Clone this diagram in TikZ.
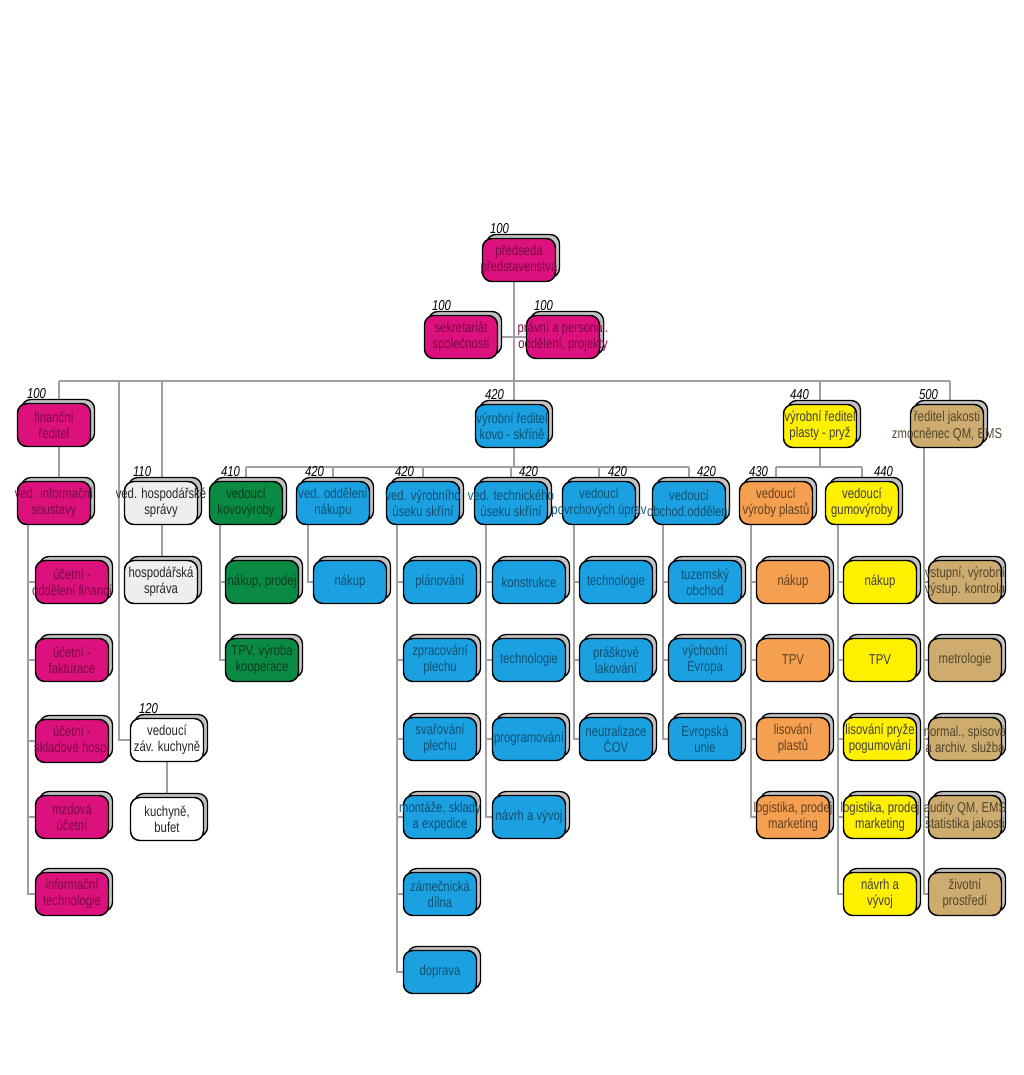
\documentclass[tikz,border=0pt]{standalone}
\usepackage{fontspec}
\setmainfont{Liberation Sans}[FakeStretch=0.79]
\usetikzlibrary{shadows,calc}
\pgfdeclarelayer{bg}
\pgfsetlayers{bg,main}
\definecolor{cMag}{RGB}{221,17,126}
\definecolor{cBlue}{RGB}{27,161,226}
\definecolor{cGreen}{RGB}{10,138,67}
\definecolor{cOrange}{RGB}{245,160,80}
\definecolor{cYellow}{RGB}{255,240,0}
\definecolor{cTan}{RGB}{206,172,112}
\definecolor{cLight}{RGB}{238,238,238}
\definecolor{cLine}{RGB}{160,160,160}
\definecolor{cShadow}{RGB}{195,195,195}
\newcommand{\ovl}[1]{\makebox[0pt]{#1}}
\begin{document}
\begin{tikzpicture}[x=0.75pt,y=-0.75pt,
  box/.style={rectangle, rounded corners=7pt, draw=black, line width=1.1pt,
    minimum width=54.75pt, minimum height=32.25pt, inner sep=0pt, align=center,
    font=\fontsize{10.75}{12.2}\selectfont,
    copy shadow={shadow xshift=3pt, shadow yshift=3pt, fill=cShadow, draw=black, line width=1pt}},
  mag/.style={box, fill=cMag, text=cMag!55!black},
  blu/.style={box, fill=cBlue, text=cBlue!50!black},
  grn/.style={box, fill=cGreen, text=cGreen!45!black},
  org/.style={box, fill=cOrange, text=cOrange!40!black},
  yel/.style={box, fill=cYellow, text=black!75},
  tan/.style={box, fill=cTan, text=cTan!40!black},
  lgt/.style={box, fill=cLight, text=black!85},
  wht/.style={box, fill=white, text=black!85},
  conn/.style={draw=cLine, line width=1.1pt},
  numL/.style={font=\fontsize{10.75}{12}\selectfont\itshape, inner sep=0pt, anchor=south west},
  numR/.style={font=\fontsize{10.75}{12}\selectfont\itshape, inner sep=0pt, anchor=south east},
]
\useasboundingbox (0,0) rectangle (1024,1075);

% ---------- top ----------
\node[mag] (pred) at (519,260) {\ovl{předseda}\\\ovl{představenstva}};
\node[mag] (sekr) at (461,337) {\ovl{sekretariát}\\\ovl{společnosti}};
\node[mag] (prav) at (563,337) {\ovl{právní a personál.}\\\ovl{oddělení, projekty}};

% ---------- level 2 ----------
\node[mag] (fin) at (54,425) {\ovl{finanční}\\\ovl{ředitel}};
\node[blu] (kovo) at (512,426) {\ovl{výrobní ředitel}\\\ovl{kovo - skříně}};
\node[yel] (plasty) at (820,426) {\ovl{výrobní ředitel}\\\ovl{plasty - pryž}};
\node[tan] (jakost) at (947,426) {\ovl{ředitel jakosti}\\\ovl{zmocněnec QM, EMS}};

% ---------- level 3 ----------
\node[mag] (vinf) at (54,503) {\ovl{ved. informační}\\\ovl{soustavy}};
\node[lgt] (vhosp) at (161,503) {\ovl{ved. hospodářské}\\\ovl{správy}};
\node[grn] (vkov) at (246,503) {\ovl{vedoucí}\\\ovl{kovovýroby}};
\node[blu] (vnak) at (333,503) {\ovl{ved. oddělení}\\\ovl{nákupu}};
\node[blu] (vvyr) at (423,503) {\ovl{ved. výrobního}\\\ovl{úseku skříní}};
\node[blu] (vtech) at (511,503) {\ovl{ved. technického}\\\ovl{úseku skříní}};
\node[blu] (vpov) at (599,503) {\ovl{vedoucí}\\\ovl{povrchových úprav}};
\node[blu] (vobch) at (689,503) {\ovl{vedoucí}\\\ovl{obchod.oddělení}};
\node[org] (vpl) at (776,503) {\ovl{vedoucí}\\\ovl{výroby plastů}};
\node[yel] (vgum) at (862,503) {\ovl{vedoucí}\\\ovl{gumovýroby}};

% ---------- children ----------
\node[mag] (f1) at (72,582) {\ovl{účetní -}\\\ovl{oddělení financí}};
\node[mag] (f2) at (72,660) {\ovl{účetní -}\\\ovl{fakturace}};
\node[mag] (f3) at (72,741) {\ovl{účetní -}\\\ovl{skladové hosp.}};
\node[mag] (f4) at (72,817) {\ovl{mzdová}\\\ovl{účetní}};
\node[mag] (f5) at (72,894) {\ovl{informační}\\\ovl{technologie}};

\node[lgt] (hosp) at (161,582) {\ovl{hospodářská}\\\ovl{správa}};
\node[wht] (kuch) at (167,740) {\ovl{vedoucí}\\\ovl{záv. kuchyně}};
\node[wht] (bufet) at (167,819) {\ovl{kuchyně,}\\\ovl{bufet}};

\node[grn] (k1) at (262,582) {\ovl{nákup, prodej}};
\node[grn] (k2) at (262,660) {\ovl{TPV, výroba}\\\ovl{kooperace}};

\node[blu] (n1) at (350,582) {\ovl{nákup}};

\node[blu] (y1) at (440,582) {\ovl{plánování}};
\node[blu] (y2) at (440,660) {\ovl{zpracování}\\\ovl{plechu}};
\node[blu] (y3) at (440,739) {\ovl{svařování}\\\ovl{plechu}};
\node[blu] (y4) at (440,817) {\ovl{montáže, sklady}\\\ovl{a expedice}};
\node[blu] (y5) at (440,894) {\ovl{zámečnická}\\\ovl{dílna}};
\node[blu] (y6) at (440,972) {\ovl{doprava}};

\node[blu] (t1) at (529,582) {\ovl{konstrukce}};
\node[blu] (t2) at (529,660) {\ovl{technologie}};
\node[blu] (t3) at (529,739) {\ovl{programování}};
\node[blu] (t4) at (529,817) {\ovl{návrh a vývoj}};

\node[blu] (p1) at (616,582) {\ovl{technologie}};
\node[blu] (p2) at (616,660) {\ovl{práškové}\\\ovl{lakování}};
\node[blu] (p3) at (616,739) {\ovl{neutralizace}\\\ovl{ČOV}};

\node[blu] (o1) at (705,582) {\ovl{tuzemský}\\\ovl{obchod}};
\node[blu] (o2) at (705,660) {\ovl{východní}\\\ovl{Evropa}};
\node[blu] (o3) at (705,739) {\ovl{Evropská}\\\ovl{unie}};

\node[org] (l1) at (793,582) {\ovl{nákup}};
\node[org] (l2) at (793,660) {\ovl{TPV}};
\node[org] (l3) at (793,739) {\ovl{lisování}\\\ovl{plastů}};
\node[org] (l4) at (793,817) {\ovl{logistika, prodej}\\\ovl{marketing}};

\node[yel] (g1) at (880,582) {\ovl{nákup}};
\node[yel] (g2) at (880,660) {\ovl{TPV}};
\node[yel] (g3) at (880,739) {\ovl{lisování pryže}\\\ovl{pogumování}};
\node[yel] (g4) at (880,817) {\ovl{logistika, prodej}\\\ovl{marketing}};
\node[yel] (g5) at (880,894) {\ovl{návrh a}\\\ovl{vývoj}};

\node[tan] (j1) at (965,582) {\ovl{vstupní, výrobní}\\\ovl{výstup. kontrola}};
\node[tan] (j2) at (965,660) {\ovl{metrologie}};
\node[tan] (j3) at (965,739) {\ovl{normal., spisová}\\\ovl{a archiv. služba}};
\node[tan] (j4) at (965,817) {\ovl{audity QM, EMS}\\\ovl{statistika jakosti}};
\node[tan] (j5) at (965,894) {\ovl{životní}\\\ovl{prostředí}};

% ---------- number labels ----------
\node[numL] (npred) at ($(pred.north west)+(8,-4)$) {100};
\node[numL] (nsekr) at ($(sekr.north west)+(8,-4)$) {100};
\node[numL] (nprav) at ($(prav.north west)+(8,-4)$) {100};
\node[numL] (nfin) at ($(fin.north west)+(10,-4)$) {100};
\node[numL] (nkovo) at ($(kovo.north west)+(10,-4)$) {420};
\node[numL] (nplasty) at ($(plasty.north west)+(7,-4)$) {440};
\node[numL] (njakost) at ($(jakost.north west)+(9,-4)$) {500};
\node[numL] (nvhosp) at ($(vhosp.north west)+(9,-4)$) {110};
\node[numL] (nvkov) at ($(vkov.north west)+(12,-4)$) {410};
\node[numL] (nvnak) at ($(vnak.north west)+(9,-4)$) {420};
\node[numL] (nvvyr) at ($(vvyr.north west)+(9,-4)$) {420};
\node[numR] (nvtech) at ($(vtech.north east)+(-10,-4)$) {420};
\node[numR] (nvpov) at ($(vpov.north east)+(-9,-4)$) {420};
\node[numR] (nvobch) at ($(vobch.north east)+(-10,-4)$) {420};
\node[numL] (nvpl) at ($(vpl.north west)+(10,-4)$) {430};
\node[numR] (nvgum) at ($(vgum.north east)+(-6,-4)$) {440};
\node[numL] (nkuch) at ($(kuch.north west)+(9,-4)$) {120};

% ---------- spine coordinates ----------
\coordinate (busL) at (59,381);
\coordinate (busR) at (950,381);
\coordinate (bK) at (119,381);
\coordinate (bH) at (162,381);
\coordinate (spTop) at (514,381);
\coordinate (bP) at (820,381);
\coordinate (b3) at (0,467);
\coordinate (sF) at (28,0);
\coordinate (sK) at (220,0);
\coordinate (sN) at (308,0);
\coordinate (sY) at (397,0);
\coordinate (sT) at (486,0);
\coordinate (sP) at (574,0);
\coordinate (sO) at (663,0);
\coordinate (sL) at (751,0);
\coordinate (sG) at (838,0);
\coordinate (sJ) at (924,0);

\begin{pgfonlayer}{bg}
  % top
  \draw[conn] (sekr.east) -- (prav.west);
  \draw[conn] (pred.south -| spTop) -- (kovo.north -| spTop);
  % main bus
  \draw[conn] (busL) -- (busR);
  \draw[conn] (busL) -- (fin.north -| busL);
  \draw[conn] (bK) |- (kuch.west);
  \draw[conn] (bH) -- (vhosp.north -| bH);
  \draw[conn] (bP) -- (plasty.north -| bP);
  \draw[conn] (busR) -- (jakost.north -| busR);
  % finance
  \draw[conn] (fin.south -| busL) -- (vinf.north -| busL);
  \foreach \c in {f1,f2,f3,f4,f5} \draw[conn] (vinf.south -| sF) |- (\c.west);
  % hospodářská
  \draw[conn] (vhosp.south -| bH) -- (hosp.north -| bH);
  \draw[conn] (kuch.south) -- (bufet.north);
  % level-3 bus (kovo)
  \draw[conn] (kovo.south -| spTop) -- (b3 -| spTop);
  \draw[conn] (vkov.north |- b3) -- (vobch.north |- b3);
  \foreach \n in {vkov,vnak,vvyr,vtech,vpov,vobch} \draw[conn] (\n.north) -- (\n.north |- b3);
  % level-3 bus (plasty)
  \draw[conn] (plasty.south -| bP) -- (b3 -| bP);
  \draw[conn] (vpl.north |- b3) -- (vgum.north |- b3);
  \foreach \n in {vpl,vgum} \draw[conn] (\n.north) -- (\n.north |- b3);
  % children spines
  \foreach \c in {k1,k2} \draw[conn] (vkov.south -| sK) |- (\c.west);
  \draw[conn] (vnak.south -| sN) |- (n1.west);
  \foreach \c in {y1,y2,y3,y4,y5,y6} \draw[conn] (vvyr.south -| sY) |- (\c.west);
  \foreach \c in {t1,t2,t3,t4} \draw[conn] (vtech.south -| sT) |- (\c.west);
  \foreach \c in {p1,p2,p3} \draw[conn] (vpov.south -| sP) |- (\c.west);
  \foreach \c in {o1,o2,o3} \draw[conn] (vobch.south -| sO) |- (\c.west);
  \foreach \c in {l1,l2,l3,l4} \draw[conn] (vpl.south -| sL) |- (\c.west);
  \foreach \c in {g1,g2,g3,g4,g5} \draw[conn] (vgum.south -| sG) |- (\c.west);
  \foreach \c in {j1,j2,j3,j4,j5} \draw[conn] (jakost.south -| sJ) |- (\c.west);
\end{pgfonlayer}
\end{tikzpicture}
\end{document}
